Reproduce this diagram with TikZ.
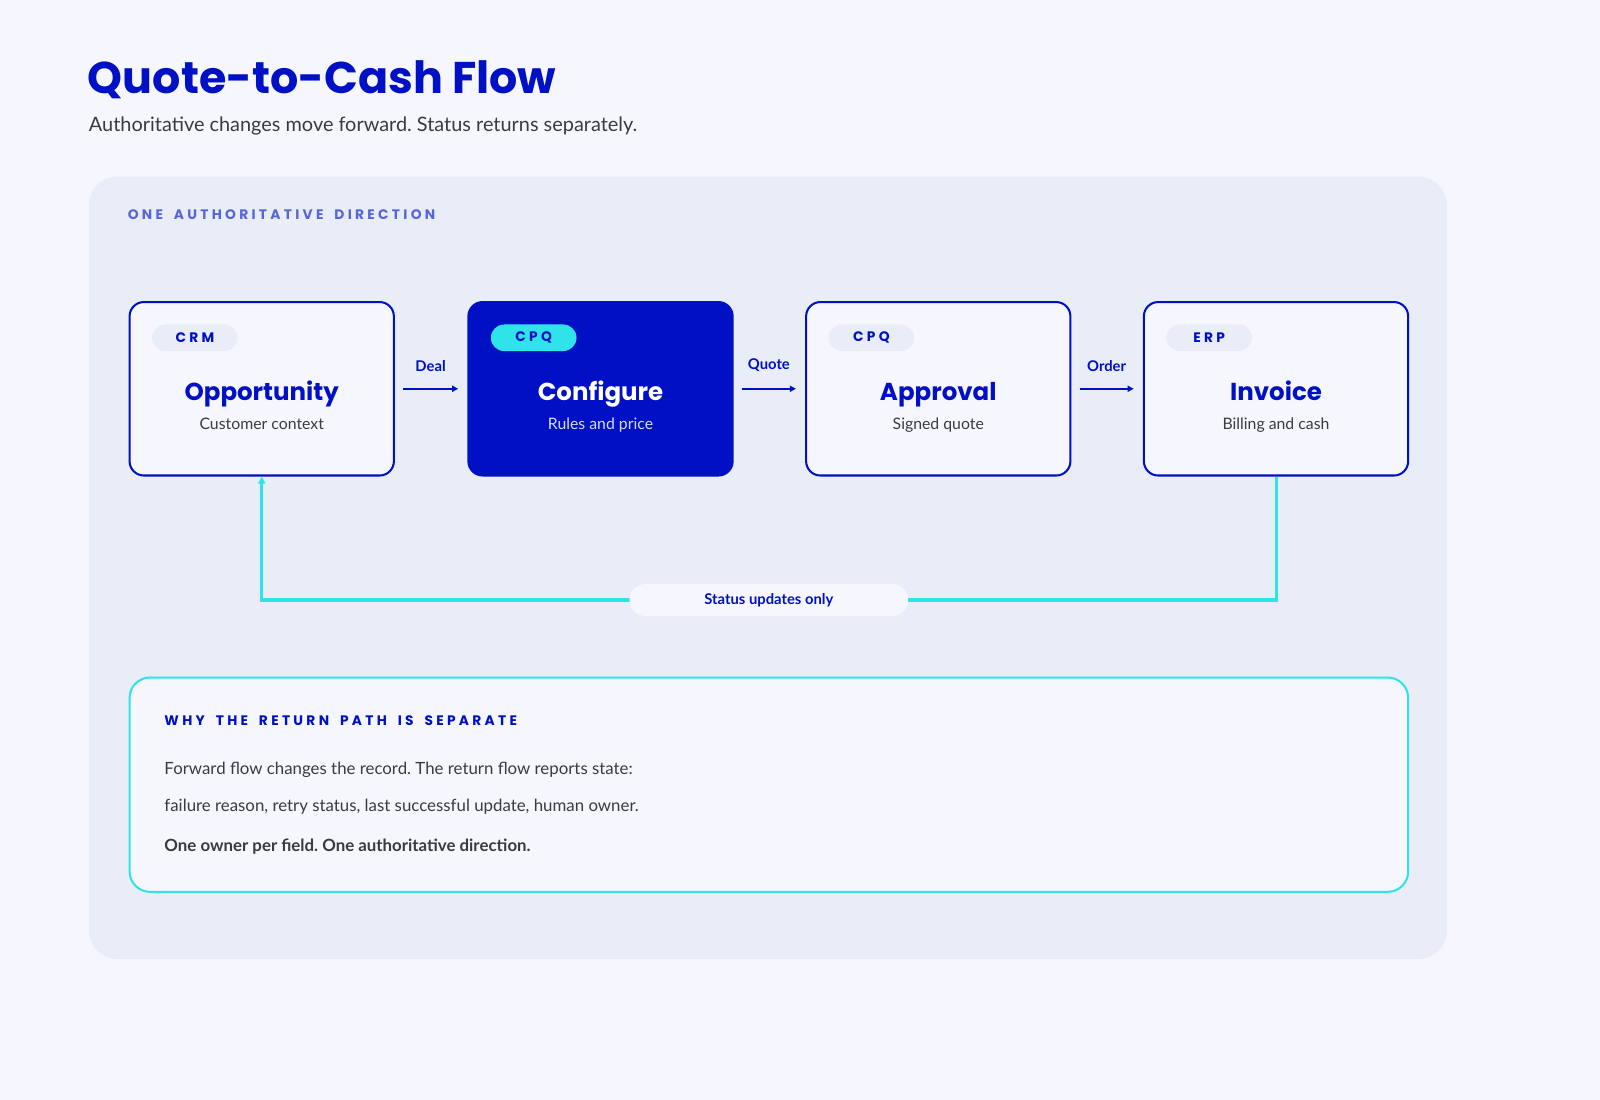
\documentclass[tikz,border=0pt]{standalone}
\usepackage{fontspec}
\setmainfont{Lato}
\setsansfont{Poppins}
\newfontfamily\capsfont{Poppins}[LetterSpace=24,WordSpace=1.75]
\usetikzlibrary{arrows.meta,positioning}
\definecolor{pagebg}{HTML}{F6F7FE}
\definecolor{panelbg}{HTML}{E8EDF8}
\definecolor{navy}{HTML}{0010C4}
\definecolor{aqua}{HTML}{2EE4E8}
\definecolor{ink}{HTML}{3A3A44}
\definecolor{kicker}{HTML}{5764DC}
\definecolor{mist}{HTML}{D6DCFF}
\frenchspacing
\begin{document}
\begin{tikzpicture}[x=1pt, y=-1pt,
	stage/.style={rectangle,draw=navy,line width=2pt,rounded corners=14pt,fill=pagebg,minimum width=259pt,minimum height=170pt,anchor=north west,inner sep=0pt},
	tag/.style={rectangle,rounded corners=13pt,fill=panelbg,minimum width=84pt,minimum height=26pt,inner sep=0pt,text=navy,font=\capsfont\bfseries\fontsize{13.5}{13.5}\selectfont},
	heading/.style={anchor=base,inner sep=0pt,text=navy,font=\sffamily\bfseries\fontsize{24}{24}\selectfont},
	sub/.style={anchor=base,inner sep=0pt,text=ink,font=\fontsize{15.5}{15.5}\selectfont},
	flow/.style={draw=navy,line width=1.6pt,-{Triangle[length=6pt,width=6pt]}},
	flowlabel/.style={midway,above=13pt,text=navy,font=\bfseries\fontsize{14.5}{14.5}\selectfont},
	back/.style={draw=aqua,line width=3pt,-{Triangle[length=7pt,width=7pt]}},
	note/.style={rectangle,rounded corners=15pt,fill=pagebg,minimum width=273pt,minimum height=31pt,text=navy,font=\bfseries\fontsize{14.5}{14.5}\selectfont},
	caps/.style={anchor=base west,inner sep=0pt,font=\capsfont\bfseries\fontsize{13.5}{13.5}\selectfont},
	body/.style={anchor=base west,inner sep=0pt,text=ink,font=\fontsize{16.5}{16.5}\selectfont}]
		\fill[pagebg] (0, 0) rectangle (1568, 1078);
		\useasboundingbox (0, 0) rectangle (1568, 1078);
		\node[anchor=base west,inner sep=0pt,text=navy,font=\sffamily\bfseries\fontsize{43.5}{43.5}\selectfont] (title) at (86, 92) {Quote-to-Cash Flow};
		\node[anchor=base west,inner sep=0pt,text=ink,font=\fontsize{19.5}{19.5}\selectfont] (lede) at (87, 129) {Authoritative changes move forward. Status returns separately.};
		\fill[panelbg,rounded corners=28pt] (87, 173) rectangle (1418, 940);
		\node[caps,text=kicker] (kick) at (125, 215) {ONE AUTHORITATIVE DIRECTION};
		\node[stage] (crm) at (126, 295) {};
		\node[stage,fill=navy] (cfg) at (458, 295) {};
		\node[stage] (apr) at (789, 295) {};
		\node[stage] (inv) at (1120, 295) {};
		\node[tag] (crmtag) at ([xshift=65pt,yshift=-36pt]crm.north west) {CRM};
		\node[tag,fill=aqua] (cfgtag) at ([xshift=65pt,yshift=-36pt]cfg.north west) {CPQ};
		\node[tag] (aprtag) at ([xshift=65pt,yshift=-36pt]apr.north west) {CPQ};
		\node[tag] (invtag) at ([xshift=65pt,yshift=-36pt]inv.north west) {ERP};
		\node[heading] (crmhead) at ([yshift=-97pt]crm.north) {Opportunity};
		\node[heading,text=white] (cfghead) at ([yshift=-97pt]cfg.north) {Configure};
		\node[heading] (aprhead) at ([yshift=-97pt]apr.north) {Approval};
		\node[heading] (invhead) at ([yshift=-97pt]inv.north) {Invoice};
		\node[sub] (crmsub) at ([yshift=-126pt]crm.north) {Customer context};
		\node[sub,text=mist] (cfgsub) at ([yshift=-126pt]cfg.north) {Rules and price};
		\node[sub] (aprsub) at ([yshift=-126pt]apr.north) {Signed quote};
		\node[sub] (invsub) at ([yshift=-126pt]inv.north) {Billing and cash};
		\draw[flow] ([xshift=8pt]crm.east) -- ([xshift=-9pt]cfg.west) node[flowlabel] {Deal};
		\draw[flow] ([xshift=8pt]cfg.east) -- ([xshift=-9pt]apr.west) node[flowlabel] {Quote};
		\draw[flow] ([xshift=8pt]apr.east) -- ([xshift=-9pt]inv.west) node[flowlabel] {Order};
		\coordinate (turn) at (0, 588);
		\draw[back] (inv.south) |- node[pos=0.75,note] (status) {Status updates only} (crm.south |- turn) -- (crm.south);
		\node[rectangle,draw=aqua,line width=2pt,rounded corners=20pt,fill=pagebg,minimum width=1253pt,minimum height=210pt,anchor=north west] (why) at (126, 663) {};
		\node[caps,text=navy] (whyhead) at (161, 711) {WHY THE RETURN PATH IS SEPARATE};
		\node[body] (line1) at (161, 759) {Forward flow changes the record. The return flow reports state:};
		\node[body] (line2) at (161, 795) {failure reason, retry status, last successful update, human owner.};
		\node[body,font=\bfseries\fontsize{16.5}{16.5}\selectfont] (line3) at (161, 834) {One owner per field. One authoritative direction.};
\end{tikzpicture}
\end{document}
